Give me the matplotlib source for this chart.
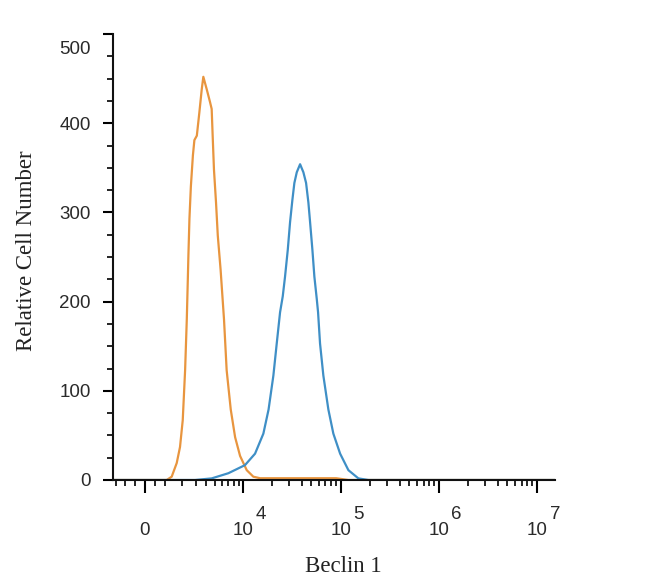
import matplotlib.pyplot as plt
import matplotlib.transforms as mtransforms
import numpy as np

# logicle-like axis: asinh with a linear region around 0
W = 2020.0

def fwd(x):
    return np.arcsinh(np.asarray(x, dtype=float) / W) / np.log(10)

def inv(y):
    return W * np.sinh(np.asarray(y, dtype=float) * np.log(10))

# isotype control (orange)
ctrl_x = [-1665, 0, 1075, 1351, 1648, 1855, 2034, 2197, 2317, 2390, 2434, 2513, 2622,
          2784, 2905, 3113, 3339, 3563, 3719, 4068, 4424, 4624, 4743, 4903, 5165,
          5399, 5790, 6302, 6727, 7434, 8262, 9312, 10928, 12787, 14988, 40000,
          90000, 1.2e5, 1.536e7]
ctrl_y = [0, 0, 0, 3.7, 19, 37, 67, 123, 180, 224, 251, 293, 329,
          364, 381, 386, 412, 438, 452, 438, 424, 416, 386, 348, 311,
          274, 236, 180, 123, 79, 48, 27, 11, 3.7, 2, 2,
          2, 0, 0]

# Beclin 1 (blue)
beclin_x = [-1665, 0, 2963, 4624, 7013, 10484, 13312, 16221, 18342, 20543, 22240,
            24058, 25634, 27048, 28846, 30441, 32158, 33694, 35653, 38542, 41652,
            44379, 46864, 48763, 51490, 53934, 57045, 58822, 61610, 66620, 74942,
            84234, 98778, 119988, 151702, 191900, 1.536e7]
beclin_y = [0, 0, 0, 1.8, 7.6, 16.7, 29.5, 52, 79, 117, 153,
            188, 206, 228, 258, 289, 314, 333, 345, 354, 345,
            333, 311, 289, 258, 228, 203, 188, 153, 117, 79,
            52, 29.5, 11, 1.8, 0, 0]

xticks = [0, 1e4, 1e5, 1e6, 1e7]
xticklabels = ["0", "10", "10", "10", "10"]
xexponents = ["4", "5", "6", "7"]

fig = plt.figure(figsize=(6.5, 5.87), dpi=100)
ax = fig.add_axes([113 / 650, 1 - 480 / 587, 442 / 650, 446 / 587])
ax.set_xscale('function', functions=(fwd, inv))

ax.plot(ctrl_x, ctrl_y, color='#E8953F', lw=1.6)
ax.plot(beclin_x, beclin_y, color='#3F8FC6', lw=1.6)

ax.set_xlim(-1665, 1.536e7)
ax.set_ylim(0, 500)

ax.set_xticks(xticks)
ax.set_xticklabels(xticklabels)
minor = [-1500, -1000, -500, 500, 1000]
for k in range(3, 7):
    for m in range(2, 10):
        minor.append(m * 10 ** k)
ax.set_xticks(minor, minor=True)
ax.set_yticks(range(0, 501, 100))
ax.set_yticks([v for v in range(25, 500, 25) if v % 100], minor=True)

for s in ['top', 'right']:
    ax.spines[s].set_visible(False)
for s in ['left', 'bottom']:
    ax.spines[s].set_linewidth(1.5)
    ax.spines[s].set_color('#111111')

ax.tick_params(axis='x', which='major', direction='out', length=9, width=1.5, pad=21,
               labelsize=13.5, labelfontfamily='Liberation Sans', labelcolor='#2a2a2a')
ax.tick_params(axis='x', which='minor', direction='out', length=4.5, width=1.2)
ax.tick_params(axis='y', which='major', direction='out', length=7, width=1.5, pad=9,
               labelsize=13.5, labelfontfamily='Liberation Sans', labelcolor='#2a2a2a')
ax.tick_params(axis='y', which='minor', direction='out', length=4, width=1.2)

# exponents of the decade labels
for v, e in zip(xticks[1:], xexponents):
    ax.annotate(e, xy=(v, 0), xycoords=('data', 'axes fraction'),
                xytext=(13, -25), textcoords='offset points',
                ha='center', va='center', fontsize=13.5,
                fontfamily='Liberation Sans', color='#2a2a2a')

# the top label sits a little below its tick
fig.canvas.draw()
top_lab = ax.get_yticklabels()[-1]
top_lab.set_transform(top_lab.get_transform() +
                      mtransforms.ScaledTranslation(0, -0.14, fig.dpi_scale_trans))

ax.set_ylabel("Relative Cell Number", fontfamily='Liberation Serif', fontsize=16.5,
              color='#222222')
ax.yaxis.set_label_coords(-0.172, 0.515)
ax.set_xlabel("Beclin 1", fontfamily='Liberation Serif', fontsize=16.5, color='#222222')
ax.xaxis.set_label_coords(0.52, -0.171)

fig.savefig("out.png", dpi=100)
